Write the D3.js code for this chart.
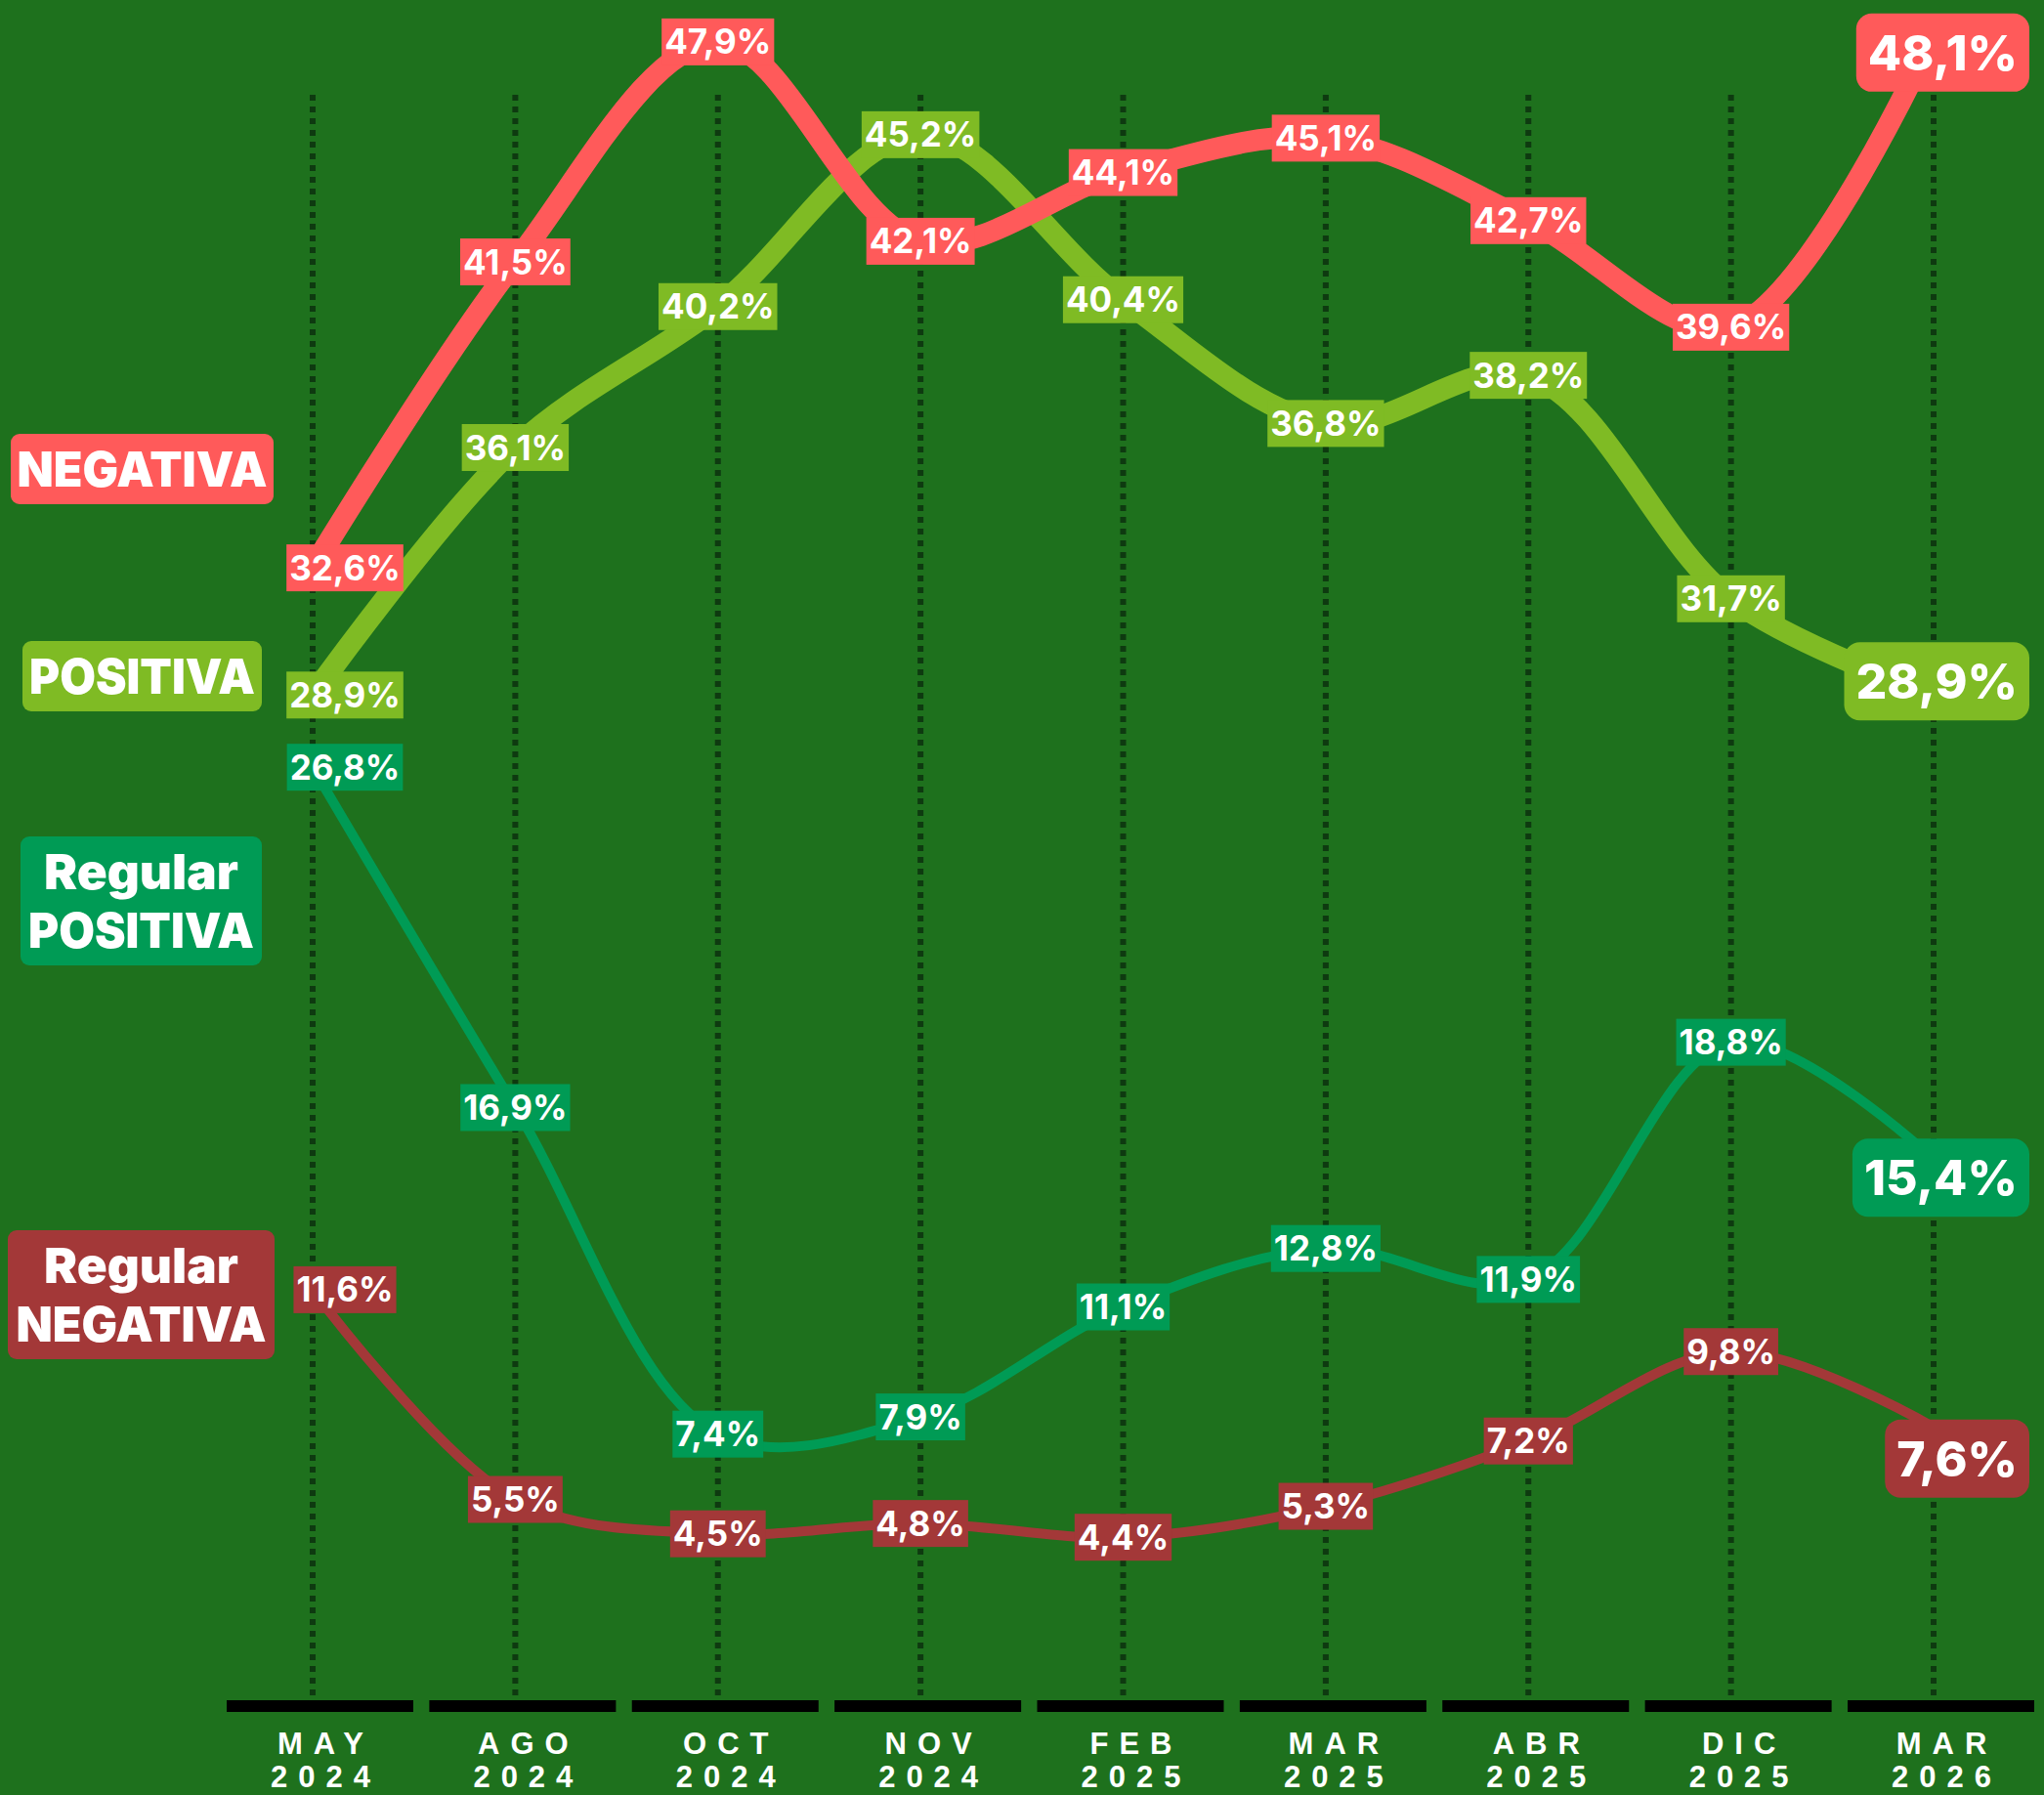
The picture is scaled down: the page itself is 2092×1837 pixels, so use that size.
<!DOCTYPE html>
<html>
<head>
<meta charset="utf-8">
<script src="https://cdn.jsdelivr.net/npm/d3@7"></script>
<style>
  html, body { margin: 0; padding: 0; background: #1e711d; }
  svg { display: block; }
</style>
</head>
<body>
<div id="chart"></div>
<script>
// survey months
const months = ["MAY", "AGO", "OCT", "NOV", "FEB", "MAR", "ABR", "DIC", "MAR"];
const years = ["2024", "2024", "2024", "2024", "2025", "2025", "2025", "2025", "2026"];

// values in %
const negativa = [32.6, 41.5, 47.9, 42.1, 44.1, 45.1, 42.7, 39.6, 48.1];
const positiva = [28.9, 36.1, 40.2, 45.2, 40.4, 36.8, 38.2, 31.7, 28.9];
const regularPositiva = [26.8, 16.9, 7.4, 7.9, 11.1, 12.8, 11.9, 18.8, 15.4];
const regularNegativa = [11.6, 5.5, 4.5, 4.8, 4.4, 5.3, 7.2, 9.8, 7.6];

const legendNames = [["NEGATIVA"], ["POSITIVA"], ["Regular", "POSITIVA"], ["Regular", "NEGATIVA"]];

const W = 2092, H = 1837;

// drawing order: thin lines under thick ones
const series = [
    {name: legendNames[3], values: regularNegativa, color: "#a33838", width: 10, box: [8, 1259, 273, 132], lastDy: 32},
    {name: legendNames[2], values: regularPositiva, color: "#009b55", width: 10, box: [21, 856, 247, 132], lastDy: 19},
    {name: legendNames[1], values: positiva, color: "#7fbb24", width: 22, box: [23, 656, 245, 72], lastDy: -14},
    {name: legendNames[0], values: negativa, color: "#ff5a5a", width: 22, box: [11, 444, 269, 72], lastDy: 18}
];

const svg = d3.select("#chart").append("svg")
    .attr("width", W)
    .attr("height", H);

svg.append("rect").attr("width", W).attr("height", H).attr("fill", "#1e711d");

const x = d3.scalePoint()
    .domain(d3.range(months.length))
    .range([320, 1979]);

const y = d3.scaleLinear()
    .domain([0, 50])
    .range([1728, -31]);

// dotted verticals
svg.append("g")
  .selectAll("line")
    .data(months)
  .enter().append("line")
    .attr("x1", (d, i) => x(i))
    .attr("x2", (d, i) => x(i))
    .attr("y1", 97)
    .attr("y2", 1736)
    .attr("stroke", "#0e3a10")
    .attr("stroke-width", 6)
    .attr("stroke-dasharray", "6,6");

// black axis segments
svg.append("g")
  .selectAll("rect")
    .data(months)
  .enter().append("rect")
    .attr("x", (d, i) => x(i) - 88)
    .attr("y", 1740)
    .attr("width", 191)
    .attr("height", 12)
    .attr("fill", "#000");

// axis labels
const axisFont = "'Liberation Sans', Arial, sans-serif";
const tickLabels = svg.append("g");
[months, years].forEach((arr, row) => {
    tickLabels.selectAll("text.r" + row)
        .data(arr)
      .enter().append("text")
        .attr("class", "r" + row)
        .attr("x", (d, i) => x(i) + 8 + 5.5)
        .attr("y", row === 0 ? 1795 : 1829)
        .attr("text-anchor", "middle")
        .attr("fill", "#fff")
        .style("font-family", axisFont)
        .style("font-weight", 700)
        .style("font-size", "31px")
        .style("letter-spacing", "11px")
        .text(d => d);
});

// lines
const line = d3.line()
    .x((d, i) => x(i))
    .y(d => y(d))
    .curve(d3.curveCatmullRom.alpha(0.5));

svg.append("g")
  .selectAll("path")
    .data(series)
  .enter().append("path")
    .attr("d", d => line(d.values))
    .attr("fill", "none")
    .attr("stroke", d => d.color)
    .attr("stroke-width", d => d.width)
    .attr("stroke-linecap", "round")
    .attr("stroke-linejoin", "round");

// small value labels (all but the last point)
const labelFont = "Inter, 'Noto Sans', sans-serif";
const fmt = v => d3.format(".1f")(v).replace(".", ",") + "%";

series.forEach(s => {
    const g = svg.append("g");
    s.values.slice(0, -1).forEach((v, i) => {
        // first column labels sit a bit to the right of the line start
        const dx = i === 0 ? 33 : 0;
        const lg = g.append("g").attr("transform", `translate(${x(i) + dx},${y(v)})`);
        const bg = lg.append("rect").attr("fill", s.color);
        const t = lg.append("text")
            .attr("text-anchor", "middle")
            .attr("y", 12.5)
            .attr("fill", "#fff")
            .style("font-family", labelFont)
            .style("font-weight", 700)
            .style("font-size", "35px")
            .text(fmt(v));
        const bb = t.node().getBBox();
        bg.attr("x", bb.x - 3)
          .attr("width", bb.width + 6)
          .attr("y", -24)
          .attr("height", 48);
    });
});

// big last-value labels
series.forEach(s => {
    const i = s.values.length - 1;
    const v = s.values[i];
    const cy = y(v) + s.lastDy;
    const g = svg.append("g");
    const bg = g.append("rect").attr("fill", s.color).attr("rx", 16);
    const t = g.append("text")
        .attr("x", 2065)
        .attr("y", cy + 18)
        .attr("text-anchor", "end")
        .attr("fill", "#fff")
        .style("font-family", labelFont)
        .style("font-weight", 800)
        .style("font-size", "50px")
        .text(fmt(v));
    const bb = t.node().getBBox();
    bg.attr("x", bb.x - 12)
      .attr("width", bb.width + 24)
      .attr("y", cy - 40)
      .attr("height", 80);
});

// legend boxes on the left
series.forEach(s => {
    const [bx, by, bw, bh] = s.box;
    const g = svg.append("g");
    g.append("rect")
        .attr("x", bx).attr("y", by)
        .attr("width", bw).attr("height", bh)
        .attr("rx", 9)
        .attr("fill", s.color);
    const n = s.name.length;
    s.name.forEach((txt, k) => {
        const cy = by + bh / 2 + (k - (n - 1) / 2) * 60;
        g.append("text")
            .attr("x", bx + bw / 2)
            .attr("y", cy + 18)
            .attr("text-anchor", "middle")
            .attr("fill", "#fff")
            .attr("textLength", txt === "Regular" ? 199 : (txt === "POSITIVA" ? 231 : 256))
            .attr("lengthAdjust", "spacingAndGlyphs")
            .style("font-family", labelFont)
            .style("font-weight", 900)
            .style("font-size", "50px")
            .text(txt);
    });
});
</script>
</body>
</html>
